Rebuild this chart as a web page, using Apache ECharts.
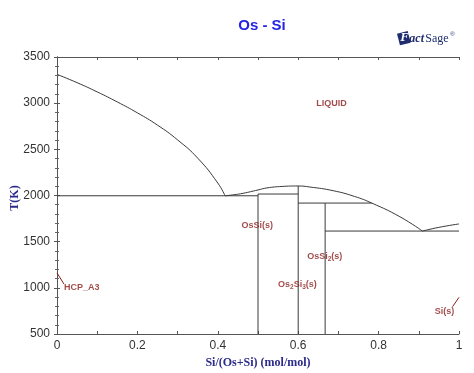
<!DOCTYPE html>
<html><head><meta charset="utf-8">
<script src="https://cdn.jsdelivr.net/npm/echarts@6/dist/echarts.min.js"></script>
<style>html,body{margin:0;padding:0;background:#fff}#c{width:474px;height:373px}</style>
</head><body><div id="c"></div>
<script>
// ---- data ----
const xTicks = [0, 0.2, 0.4, 0.6, 0.8, 1];
const yTicks = [500, 1000, 1500, 2000, 2500, 3000, 3500];
// Os-side liquidus
const osLiqX = [0, 0.05, 0.1, 0.15, 0.2, 0.25, 0.3, 0.35, 0.4, 0.418];
const osLiqT = [3312, 3222, 3122, 3013, 2895, 2762, 2602, 2405, 2135, 1997];
// central liquidus (over OsSi / Os2Si3 / OsSi2)
const midLiqX = [0.418, 0.44, 0.463, 0.5, 0.522, 0.56, 0.6, 0.629, 0.687, 0.74, 0.783, 0.853, 0.909];
const midLiqT = [1997, 2008, 2024, 2060, 2082, 2098, 2103, 2092, 2052, 1990, 1918, 1770, 1615];
// Si-side liquidus
const siLiqX = [0.909, 0.95, 1];
const siLiqT = [1615, 1655, 1692];
// invariant (horizontal) lines: [xStart, xEnd, T]
const invariants = [[0, 0.5, 1997], [0.5, 0.6, 2016], [0.6, 0.783, 1918], [0.667, 1, 1615]];
// compound (vertical) lines: [x, Tbottom, Ttop]
const compounds = [[0.5, 500, 2016], [0.6, 500, 2103], [0.667, 500, 1918]];
// phase labels
const labelX = [0.683, 0.498, 0.666, 0.598, 0.0174, 0.964];
const labelT = [2999, 1673, 1337, 1031, 1000, 741];
const labelText = ['LIQUID', 'OsSi(s)', 'OsSi{s|2}(s)', 'Os{s|2}Si{s|3}(s)', 'HCP_A3', 'Si(s)'];
const labelAlign = ['center', 'center', 'center', 'center', 'left', 'center'];
// leader lines
const hcpLeader = [[0, 1161], [0.0174, 1041]];
const siLeader = [[0.984, 796], [1, 897]];

const zip = (xs, ys) => xs.map((x, i) => [x, ys[i]]);
const lineColor = '#3a3a3a';
const red = '#8b1c1c';

const series = [];
const addLine = (data, smooth, color) => series.push({
  type: 'line', data, symbol: 'none', smooth: smooth ? 0.5 : false,
  lineStyle: { color: color || lineColor, width: 1 }, silent: true, z: 3
});
addLine(zip(osLiqX, osLiqT), true);
addLine(zip(midLiqX, midLiqT), true);
addLine(zip(siLiqX, siLiqT), true);
invariants.forEach(v => addLine([[v[0], v[2]], [v[1], v[2]]], false));
compounds.forEach(v => addLine([[v[0], v[1]], [v[0], v[2]]], false));
addLine(hcpLeader, false, red);
addLine(siLeader, false, red);

series.push({
  type: 'scatter', symbolSize: 0, silent: true, z: 5,
  data: labelX.map((x, i) => ({
    value: [x, labelT[i]],
    label: { show: true, position: 'inside', formatter: labelText[i], align: labelAlign[i], verticalAlign: 'middle' }
  })),
  label: {
    color: red, fontSize: 9, fontWeight: 'bold', fontFamily: 'Liberation Sans, Arial, sans-serif',
    rich: { s: { fontSize: 6.5, color: red, fontWeight: 'bold', padding: [5, 0, 0, 0], fontFamily: 'Liberation Sans, Arial, sans-serif' } }
  }
});

const axisLine = { show: true, lineStyle: { color: '#555', width: 1 } };
const option = {
  animation: false,
  backgroundColor: '#fff',
  title: {
    text: 'Os - Si', left: 257, top: 13, textAlign: 'center',
    textStyle: { color: '#2424e6', fontSize: 15, fontWeight: 'bold', fontFamily: 'Liberation Sans, Arial, sans-serif' }
  },
  grid: { left: 57, right: 15, top: 57, bottom: 39, containLabel: false, outerBoundsMode: 'none' },
  xAxis: [{
    type: 'value', min: 0, max: 1, interval: 0.2, position: 'bottom',
    name: 'Si/(Os+Si) (mol/mol)', nameLocation: 'middle', nameGap: 21,
    nameTextStyle: { color: '#2b2b8c', fontSize: 12, fontWeight: 'bold', fontFamily: 'Liberation Serif, Times New Roman, serif' },
    axisLine, axisTick: { inside: true, length: 3, lineStyle: { color: '#555' } },
    minorTick: { show: true, splitNumber: 2, length: 3, lineStyle: { color: '#555' } },
    splitLine: { show: false },
    axisLabel: { color: '#333', fontSize: 12, margin: 6, fontFamily: 'Liberation Sans, Arial, sans-serif',
      formatter: v => (xTicks.includes(+v.toFixed(1)) ? String(+v.toFixed(1)) : '') }
  }, {
    type: 'value', min: 0, max: 1, interval: 0.2, position: 'top',
    axisLine, axisTick: { inside: true, length: 3, lineStyle: { color: '#555' } },
    minorTick: { show: true, splitNumber: 2, length: 3, lineStyle: { color: '#555' } },
    splitLine: { show: false }, axisLabel: { show: false }
  }],
  yAxis: [{
    type: 'value', min: 500, max: 3500, interval: 500, position: 'left',
    axisLine, axisTick: { inside: true, length: 3, lineStyle: { color: '#555' } },
    minorTick: { show: true, splitNumber: 5, length: 2, lineStyle: { color: '#666' } },
    splitLine: { show: false },
    axisLabel: { color: '#333', fontSize: 12, margin: 7, fontFamily: 'Liberation Sans, Arial, sans-serif',
      formatter: v => (yTicks.includes(v) ? String(v) : '') }
  }, {
    type: 'value', min: 500, max: 3500, interval: 500, position: 'right',
    axisLine, axisTick: { inside: true, length: 3, lineStyle: { color: '#555' } },
    minorTick: { show: true, splitNumber: 5, length: 2, lineStyle: { color: '#666' } },
    splitLine: { show: false }, axisLabel: { show: false }
  }],
  graphic: [{
    type: 'text', x: 15, y: 198, rotation: Math.PI / 2,
    style: { text: 'T(K)', align: 'center', verticalAlign: 'middle', fill: '#2b2b8c',
      font: 'bold 12px Liberation Serif, Times New Roman, serif' }
  }, {
    type: 'group', left: 397, top: 31,
    children: [
      { type: 'rect', shape: { x: 0, y: 0, width: 11, height: 12 }, rotation: 0.25, originX: 5, originY: 6, x: 1, y: 3,
        style: { fill: '#1f2d6e' } },
      { type: 'text', x: 3, y: 2, style: { text: 'F', fill: '#fff', font: 'italic bold 13px Liberation Serif, serif' } },
      { type: 'text', x: 12, y: 4, style: { text: 'act', fill: '#1f2d6e', font: 'italic bold 12px Liberation Serif, serif' } },
      { type: 'text', x: 28, y: 4, style: { text: 'Sage', fill: '#1f2d6e', font: '12px Liberation Serif, serif' } },
      { type: 'text', x: 53, y: 2, style: { text: '®', fill: '#1f2d6e', font: '6px Liberation Sans, sans-serif' } }
    ]
  }],
  series
};
const chart = echarts.init(document.getElementById('c'), null, { renderer: 'canvas' });
chart.setOption(option);
</script></body></html>
